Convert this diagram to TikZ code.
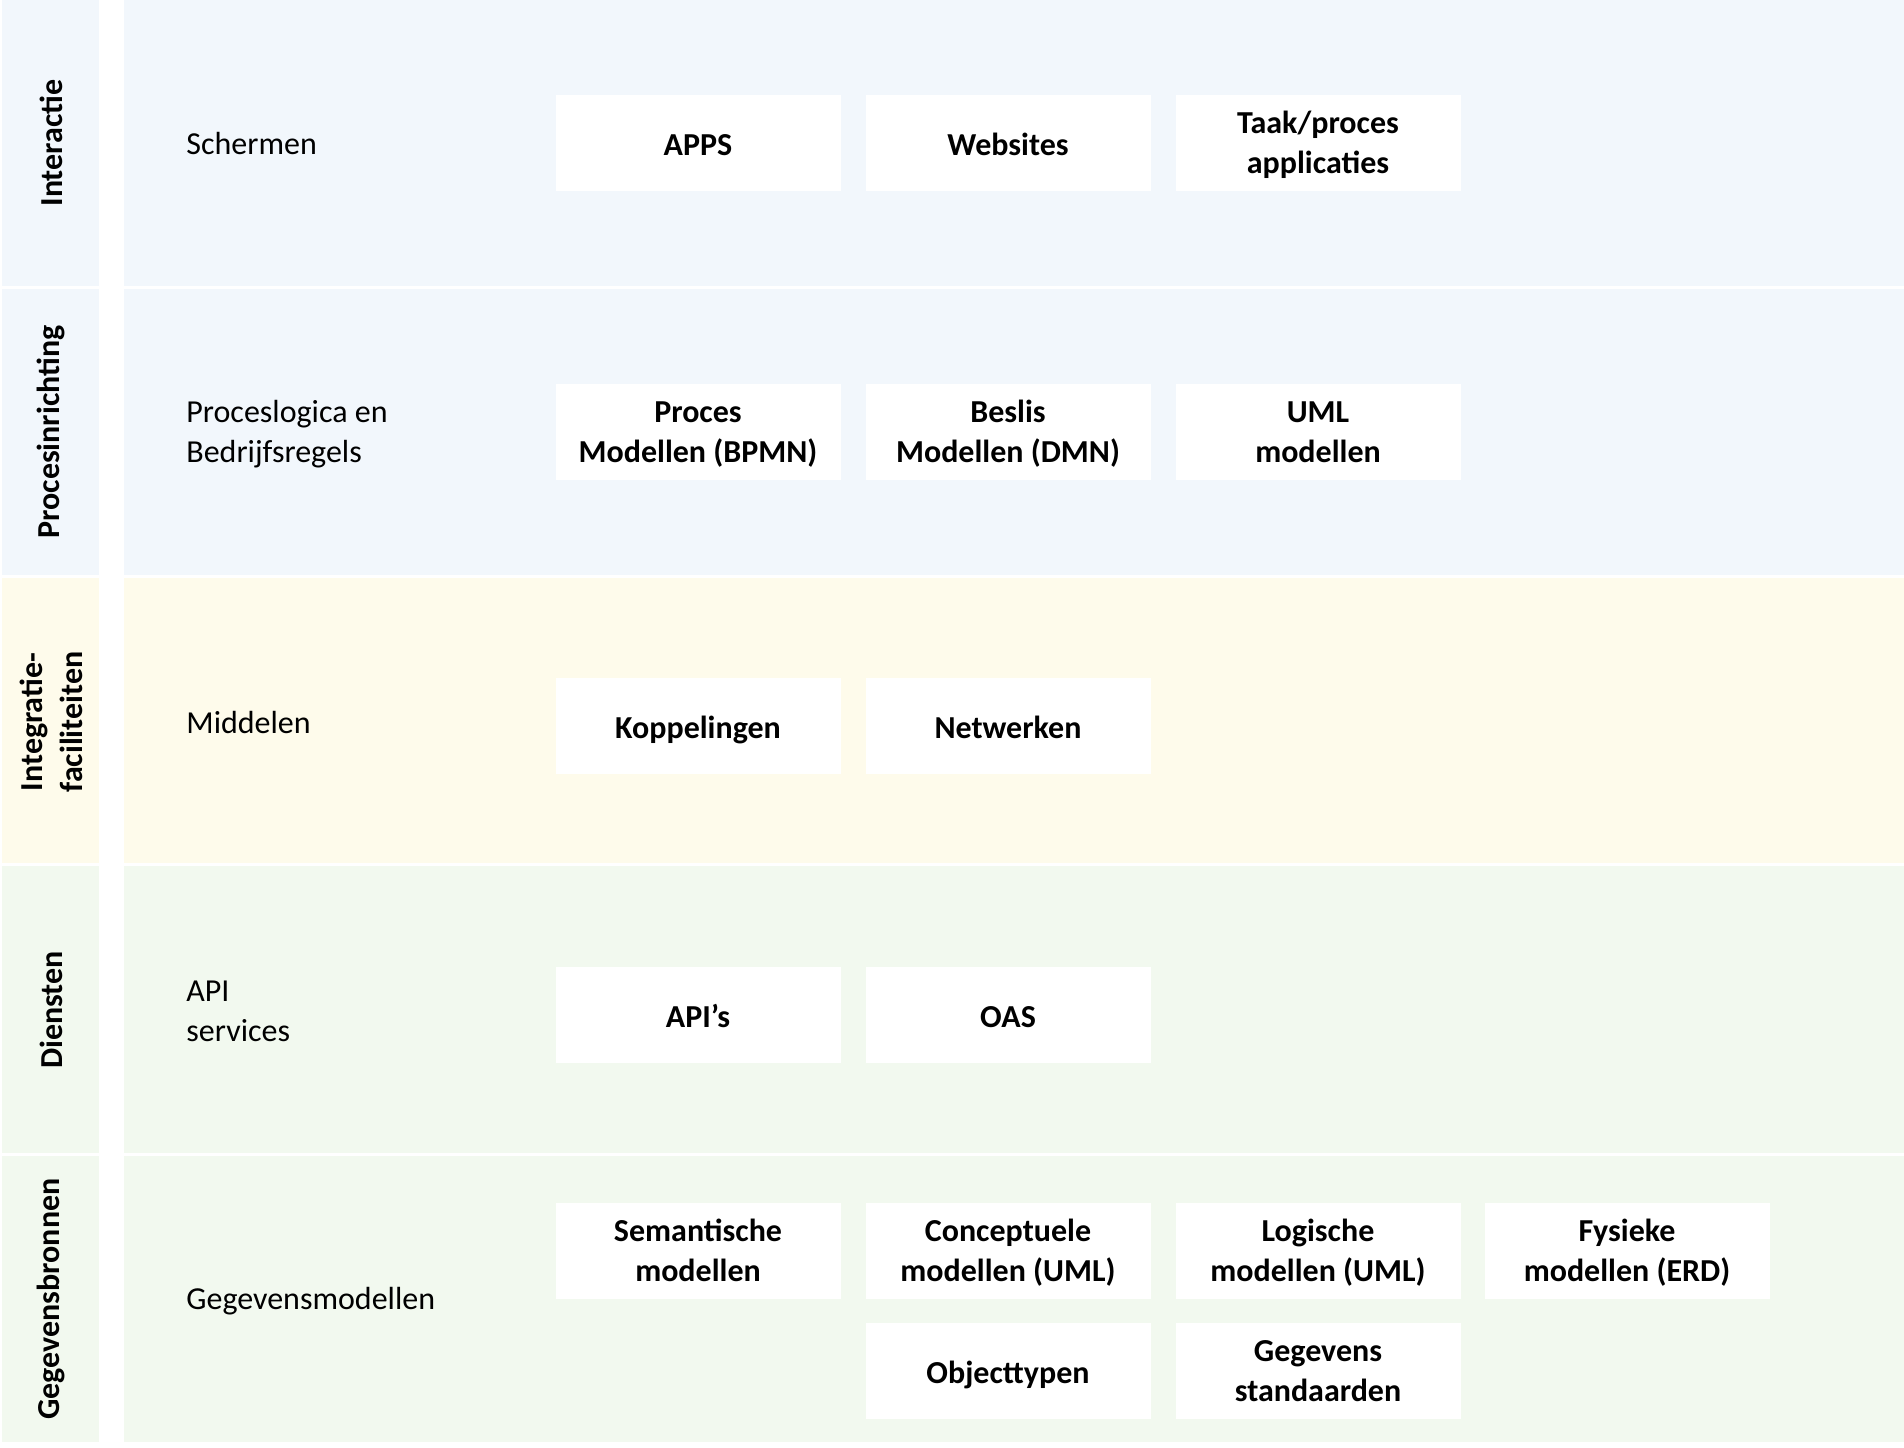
\documentclass[tikz,border=0pt]{standalone}
\usepackage{fontspec}
\setmainfont{Carlito}
\definecolor{bandblue}{RGB}{242,247,252}
\definecolor{bandyellow}{RGB}{254,251,235}
\definecolor{bandgreen}{RGB}{242,249,239}
\newcommand{\twolines}[2]{\begin{tabular}{@{}c@{}}\rule{0pt}{16.4pt}#1\\#2\end{tabular}}
\begin{document}
\begin{tikzpicture}[x=0.5pt,y=-0.5pt,
  every node/.style={font=\fontsize{16}{20}\selectfont},
  boxbase/.style={fill=white,draw=none,minimum width=142.5pt,minimum height=48pt,inner sep=0pt,align=center,font=\fontsize{16}{20}\selectfont\bfseries},
  itembox/.style={boxbase,text height=16pt,text depth=3.6pt},
  itemboxtwo/.style={boxbase},
  layerlabel/.style={rotate=90,align=center,inner sep=0pt,font=\fontsize{16}{20}\selectfont\bfseries},
  rowlabel/.style={anchor=west,align=left,inner sep=0pt}]
\useasboundingbox (0,0) rectangle (1904,1447);
\fill[white] (0,0) rectangle (1904,1447);
% bands
\fill[bandblue] (2,0) rectangle (99,286);
\fill[bandblue] (124,0) rectangle (1904,286);
\fill[bandblue] (2,289) rectangle (99,575);
\fill[bandblue] (124,289) rectangle (1904,575);
\fill[bandyellow] (2,578) rectangle (99,863);
\fill[bandyellow] (124,578) rectangle (1904,863);
\fill[bandgreen] (2,866) rectangle (99,1153);
\fill[bandgreen] (124,866) rectangle (1904,1153);
\fill[bandgreen] (2,1156) rectangle (99,1442);
\fill[bandgreen] (124,1156) rectangle (1904,1442);
% layer labels
\node[layerlabel] (l1) at (51,143) {Interactie};
\node[layerlabel] (l2) at (51,432) {Procesinrichting};
\node[layerlabel] (l3) at (51,722) {Integratie-\\faciliteiten};
\node[layerlabel] (l4) at (51,1010) {Diensten};
\node[layerlabel] (l5) at (51,1299) {Gegevensbronnen};
% row labels
\node[rowlabel] (r1) at (186,143) {Schermen};
\node[rowlabel] (r2) at (186,434) {Proceslogica en\\Bedrijfsregels};
\node[rowlabel] (r3) at (186,722) {Middelen};
\node[rowlabel] (r4) at (186,1011) {API\\services};
\node[rowlabel] (r5) at (186,1301) {Gegevensmodellen};
% boxes
\node[itembox] (apps) at (698,143) {APPS};
\node[itembox] (web) at (1008,143) {Websites};
\node[itemboxtwo] (taak) at (1318,143) {\twolines{Taak/proces}{applicaties}};
\node[itemboxtwo] (bpmn) at (698,432) {\twolines{Proces}{Modellen (BPMN)}};
\node[itemboxtwo] (dmn) at (1008,432) {\twolines{Beslis}{Modellen (DMN)}};
\node[itemboxtwo] (uml) at (1318,432) {\twolines{UML}{modellen}};
\node[itembox] (kop) at (698,726) {Koppelingen};
\node[itembox] (net) at (1008,726) {Netwerken};
\node[itembox] (api) at (698,1015) {API’s};
\node[itembox] (oas) at (1008,1015) {OAS};
\node[itemboxtwo] (sem) at (698,1251) {\twolines{Semantische}{modellen}};
\node[itemboxtwo] (con) at (1008,1251) {\twolines{Conceptuele}{modellen (UML)}};
\node[itemboxtwo] (log) at (1318,1251) {\twolines{Logische}{modellen (UML)}};
\node[itemboxtwo] (fys) at (1627,1251) {\twolines{Fysieke}{modellen (ERD)}};
\node[itembox] (obj) at (1008,1371) {Objecttypen};
\node[itemboxtwo] (geg) at (1318,1371) {\twolines{Gegevens}{standaarden}};
\end{tikzpicture}
\end{document}
